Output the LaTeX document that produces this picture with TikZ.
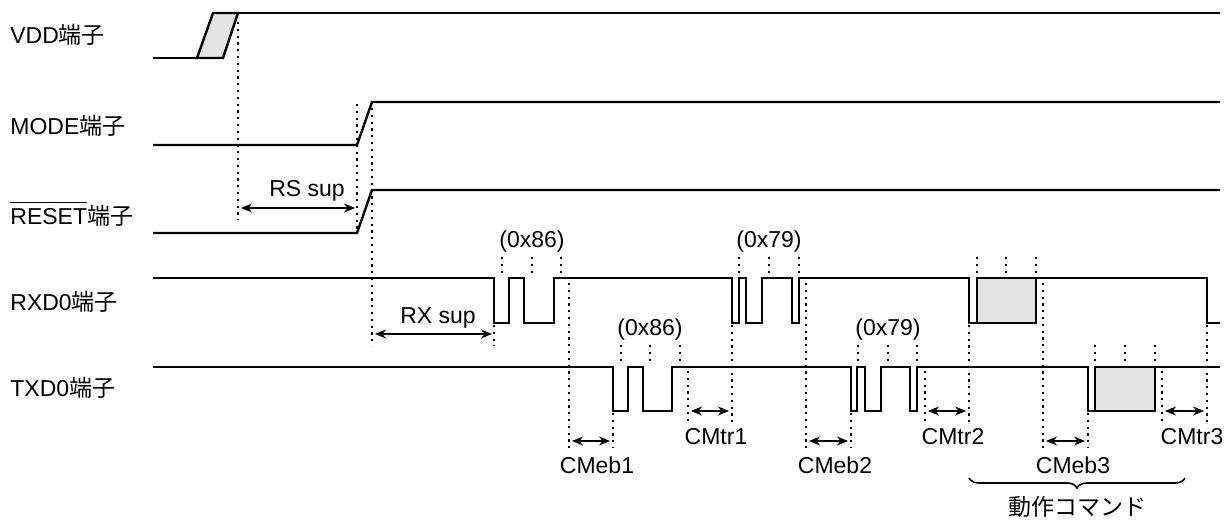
\documentclass[tikz,border=0pt]{standalone}
\usepackage{fontspec}
\setmainfont{Liberation Sans}
\newfontfamily\jp{Noto Sans CJK JP}
\usetikzlibrary{arrows.meta,decorations.pathreplacing}

\newcommand{\tanshi}{{\jp 端子}}

\begin{document}
\begin{tikzpicture}[x=0.5pt, y=-0.5pt, every node/.style={font=\fontsize{11.5}{13}\selectfont}]
    \tikzstyle{sig} = [line width=1.2pt, line join=miter]
    \tikzstyle{dots} = [line width=1.1pt, dash pattern=on 1.1pt off 2.3pt]
    \tikzstyle{dim} = [line width=0.7pt, {Stealth[length=5.5pt,width=4.5pt]}-{Stealth[length=5.5pt,width=4.5pt]}]
    \tikzstyle{busy} = [line width=1.2pt, fill=black!11]
    \tikzstyle{pin} = [anchor=west, inner sep=0pt]

    \useasboundingbox (0,0) rectangle (1231,523);

    % pin names
    \node [pin] (vdd) at (10,35) {VDD\tanshi};
    \node [pin] (mode) at (10,126) {MODE\tanshi};
    \node [pin] (reset) at (10,214) {\vbox{\hrule height 0.05em \kern 0.25em \hbox{RESET}}\tanshi};
    \node [pin] (rxd) at (10,302) {RXD0\tanshi};
    \node [pin] (txd) at (10,388) {TXD0\tanshi};

    % VDD
    \filldraw [busy] (197,58) -- (213,13) -- (238,13) -- (223,58) -- cycle;
    \draw [sig] (153,58) -- (197,58);
    \draw [sig] (238,13) -- (1220,13);

    % MODE, RESET
    \draw [sig] (153,145) -- (357,145) -- (372,102) -- (1220,102);
    \draw [sig] (153,233) -- (357,233) -- (372,190) -- (1220,190);

    % RXD0
    \draw [sig] (153,278) -- (494,278) -- (494,323) -- (509,323) -- (509,278) -- (524,278)
        -- (524,323) -- (554,323) -- (554,278) -- (732,278) -- (732,323) -- (739,323)
        -- (739,278) -- (746,278) -- (746,323) -- (762,323) -- (762,278) -- (792,278)
        -- (792,323) -- (799,323) -- (799,278) -- (969,278) -- (969,323) -- (977,323)
        -- (977,278) -- (1207,278) -- (1207,323) -- (1220,323);
    \filldraw [busy] (977,278) rectangle (1036,323);

    % TXD0
    \draw [sig] (153,367) -- (613,367) -- (613,411) -- (628,411) -- (628,367) -- (643,367)
        -- (643,411) -- (672,411) -- (672,367) -- (851,367) -- (851,411) -- (857,411)
        -- (857,367) -- (865,367) -- (865,411) -- (881,411) -- (881,367) -- (910,367)
        -- (910,411) -- (917,411) -- (917,367) -- (1088,367) -- (1088,411) -- (1095,411)
        -- (1095,367) -- (1220,367);
    \filldraw [busy] (1095,367) rectangle (1155,411);

    % RSsup, RXsup
    \draw [dots] (238,22) -- (238,220);
    \draw [dots] (357,104) -- (357,233);
    \draw [dots] (372,108) -- (372,346);
    \draw [dots] (494,325) -- (494,346);
    \draw [dim] (241,208) -- (355,208);
    \node (rssup) at (307,191) {RS sup};
    \draw [dim] (375,334) -- (492,334);
    \node (rxsup) at (438,318) {RX sup};

    % byte marks
    \foreach \x in {502,532,561, 739,769,799, 977,1006,1036}
        \draw [dots] (\x,257) -- (\x,276);
    \foreach \x in {621,650,680, 858,888,917, 1095,1125,1155}
        \draw [dots] (\x,345) -- (\x,365);
    \node (rxa) at (532,242) {(0x86)};
    \node (rxb) at (769,242) {(0x79)};
    \node (txa) at (650,330) {(0x86)};
    \node (txb) at (888,330) {(0x79)};

    % CMeb
    \foreach \a/\b in {569/613, 806/851, 1043/1088} {
        \draw [dots] (\a,283) -- (\a,448);
        \draw [dots] (\b,413) -- (\b,448);
        \draw [dim] (\a+3,441) -- (\b-3,441);
    }
    \node (cmeb1) at (597,465) {CMeb1};
    \node (cmeb2) at (835,465) {CMeb2};
    \node (cmeb3) at (1073,465) {CMeb3};

    % CMtr
    \foreach \a/\b in {688/732, 925/969, 1162/1207} {
        \draw [dots] (\a,371) -- (\a,422);
        \draw [dots] (\b,325) -- (\b,422);
        \draw [dim] (\a+3,411) -- (\b-3,411);
    }
    \node (cmtr1) at (716,437) {CMtr1};
    \node (cmtr2) at (953,437) {CMtr2};
    \node (cmtr3) at (1192,437) {CMtr3};

    % command
    \draw [line width=0.8pt, decorate, decoration={brace, mirror, amplitude=5pt}] (969,478) -- (1185,478);
    \node (cmd) at (1077,507) {\jp 動作コマンド};
\end{tikzpicture}
\end{document}
